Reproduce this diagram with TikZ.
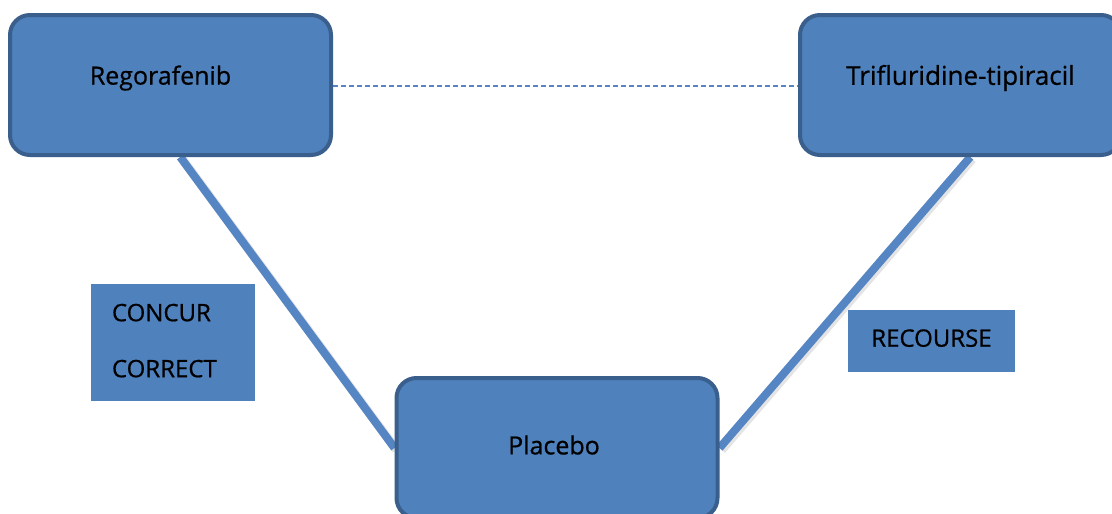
\documentclass[tikz,border=0pt]{standalone}
\usepackage{fontspec}
\setmainfont{Open Sans}[FakeBold=0.7]
\usetikzlibrary{backgrounds,calc}
\definecolor{boxfill}{HTML}{4F81BD}
\definecolor{boxline}{HTML}{3A5F8D}
\definecolor{linkcol}{HTML}{5585C2}
\tikzset{
  drugbox/.style={rectangle, rounded corners=20pt, draw=boxline, line width=4pt,
    fill=boxfill, minimum width=321pt, minimum height=140pt, inner sep=0pt},
  lbl/.style={font=\fontsize{25}{30}\selectfont, text=black, inner sep=0pt},
  trialbox/.style={rectangle, fill=boxfill, inner sep=0pt, text=black,
    font=\fontsize{24}{28}\selectfont},
  link/.style={draw=linkcol, line width=8pt},
  shadowlink/.style={draw=black!35, opacity=0.3, line width=9pt},
  dashlink/.style={draw=linkcol, line width=1.6pt, dash pattern=on 5pt off 3pt}
}
\begin{document}
\begin{tikzpicture}[x=1pt,y=-1pt]
\useasboundingbox (0,0) rectangle (1112,514);
\clip (0,0) rectangle (1112,514);
\node[drugbox, label={[lbl, xshift=-10pt, yshift=7pt]center:Regorafenib}] (reg) at (170.5,85) {};
\node[drugbox, label={[lbl, font=\fontsize{26}{30}\selectfont, xshift=0pt, yshift=7pt]center:Trifluridine-tipiracil}] (trif) at (960.5,85) {};
\node[drugbox, label={[lbl, xshift=-3pt, yshift=3pt]center:Placebo}] (plac) at (557,448) {};
\node[trialbox, minimum width=164pt, minimum height=117pt, text width=122pt, align=left] (concur) at (173,342.5)
  {\raisebox{4pt}{CONCUR}\\[28pt]\raisebox{4pt}{CORRECT}};
\node[trialbox, minimum width=167pt, minimum height=62pt] (recourse) at (931.5,341)
  {\raisebox{6pt}{RECOURSE}};
\begin{scope}[on background layer]
  \fill[white] (0,0) rectangle (1112,514);
  \coordinate (regfoot) at ($(reg.south west)!0.53!(reg.south east)$);
  \coordinate (triffoot) at ($(trif.south west)!0.53!(trif.south east)$);
  \draw[shadowlink] ([shift={(2pt,-2pt)}]regfoot) -- ([shift={(2pt,-2pt)}]plac.west);
  \draw[shadowlink] ([shift={(2pt,-2pt)}]triffoot) -- ([shift={(2pt,-2pt)}]plac.east);
  \draw[link] (regfoot) -- (plac.west);
  \draw[link] (triffoot) -- (plac.east);
  \draw[dashlink] (reg.east |- 0,86) -- (trif.west |- 0,86);
\end{scope}
\end{tikzpicture}
\end{document}
